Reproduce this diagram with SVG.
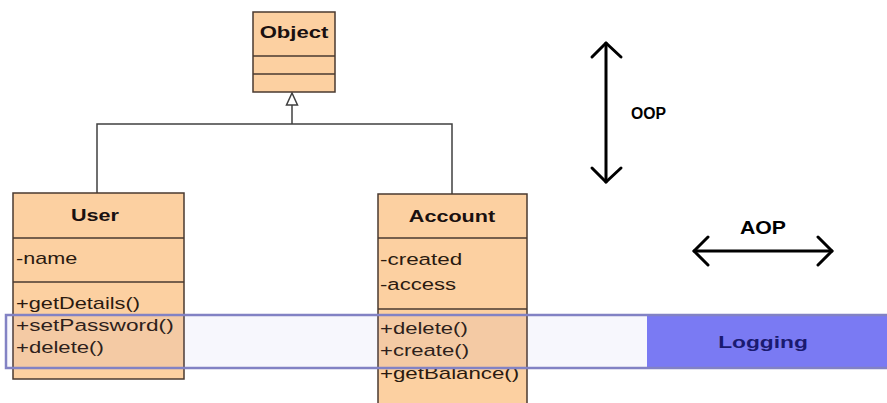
<svg xmlns="http://www.w3.org/2000/svg" width="887" height="403" viewBox="0 0 887 403">
<defs>
<style>
.box{fill:#fcd0a1;stroke:#4a3a30;stroke-width:1.5}
.div{stroke:#4a3a30;stroke-width:1.5;fill:none}
.title{font-family:"Liberation Sans",Arial,sans-serif;font-weight:bold;font-size:16px;fill:#1a1010;text-anchor:middle}
.mem{font-family:"Liberation Sans",Arial,sans-serif;font-size:17px;fill:#2a1a10}
.conn{stroke:#404040;stroke-width:1.5;fill:none}
.arr{stroke:#000;stroke-width:3;fill:none;stroke-linecap:round;stroke-linejoin:round}
.lbl{font-family:"Liberation Sans",Arial,sans-serif;font-weight:bold;fill:#000}
</style>
</defs>
<rect width="887" height="403" fill="#fff"/>

<g id="connectors">
<polyline class="conn" points="97,193 97,124 452,124 452,194"/>
<line class="conn" x1="292" y1="124" x2="292" y2="105"/>
<polygon points="292,93 286.5,105 297.5,105" fill="#fff" stroke="#404040" stroke-width="1.5"/>
</g>

<g id="object">
<rect class="box" x="253" y="12" width="82" height="80"/>
<line class="div" x1="253" y1="56" x2="335" y2="56"/>
<line class="div" x1="253" y1="74" x2="335" y2="74"/>
<text class="title" transform="matrix(1.38,0,0,1,294,38)">Object</text>
</g>

<g id="user">
<rect class="box" x="13" y="193" width="171" height="186"/>
<line class="div" x1="13" y1="238" x2="184" y2="238"/>
<line class="div" x1="13" y1="282" x2="184" y2="282"/>
<text class="title" transform="matrix(1.35,0,0,1,95,221)">User</text>
<text class="mem" transform="matrix(1.27,0,0,1,16,264)">-name</text>
<text class="mem" transform="matrix(1.28,0,0,1,16,309)">+getDetails()</text>
<text class="mem" transform="matrix(1.33,0,0,1,16,331)">+setPassword()</text>
<text class="mem" transform="matrix(1.3,0,0,1,16,353)">+delete()</text>
</g>

<g id="account">
<rect class="box" x="378" y="194" width="149" height="215"/>
<line class="div" x1="378" y1="238" x2="527" y2="238"/>
<line class="div" x1="378" y1="309" x2="527" y2="309"/>
<text class="title" transform="matrix(1.35,0,0,1,452,222)">Account</text>
<text class="mem" transform="matrix(1.32,0,0,1,380,265)">-created</text>
<text class="mem" transform="matrix(1.3,0,0,1,380,290)">-access</text>
<text class="mem" transform="matrix(1.3,0,0,1,380,334)">+delete()</text>
<text class="mem" transform="matrix(1.3,0,0,1,380,356)">+create()</text>
<text class="mem" transform="matrix(1.31,0,0,1,380,379)">+getBalance()</text>
</g>

<g id="logging">
<rect x="647" y="315" width="245" height="53" fill="#7b7bf5"/>
<rect x="6" y="315" width="890" height="53" fill="#7878d8" fill-opacity="0.06" stroke="#8282c4" stroke-width="2.5"/>
<text class="lbl" font-size="17" style="fill:#1a1a70" text-anchor="middle" transform="matrix(1.34,0,0,1,763,348)">Logging</text>
</g>

<g id="oop">
<line class="arr" x1="606" y1="43" x2="606" y2="182"/>
<polyline class="arr" points="592,57 606,43 621,57"/>
<polyline class="arr" points="592,168 606,182 621,168"/>
<text class="lbl" font-size="16" x="631" y="119" textLength="35" lengthAdjust="spacingAndGlyphs">OOP</text>
</g>

<g id="aop">
<line class="arr" x1="694" y1="251" x2="832" y2="251"/>
<polyline class="arr" points="708,237 694,251 708,265"/>
<polyline class="arr" points="818,237 832,251 818,265"/>
<text class="lbl" font-size="18" x="740" y="234" textLength="46" lengthAdjust="spacingAndGlyphs">AOP</text>
</g>
</svg>
